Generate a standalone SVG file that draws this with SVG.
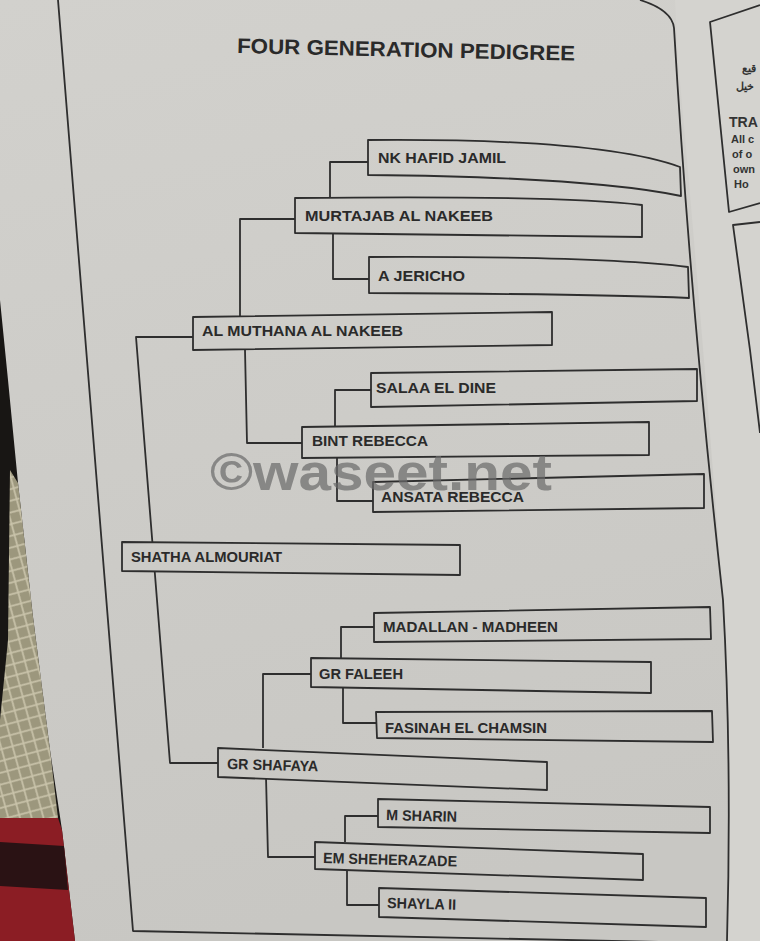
<svg xmlns="http://www.w3.org/2000/svg" width="760" height="941" viewBox="0 0 760 941">
<defs>
<linearGradient id="paper" gradientUnits="userSpaceOnUse" x1="0" y1="0" x2="200" y2="941">
<stop offset="0" stop-color="#d2d1cd"/>
<stop offset="0.5" stop-color="#cdccc8"/>
<stop offset="1" stop-color="#c8c7c3"/>
</linearGradient>
<pattern id="cloth" patternUnits="userSpaceOnUse" width="16" height="16" patternTransform="rotate(30)">
<rect width="16" height="16" fill="#9c977d"/>
<path d="M0,0 L16,16 M16,0 L0,16" stroke="#c9c3aa" stroke-width="1.6"/>
</pattern>
<style>
.box{fill:url(#paper);stroke:#2e2e2e;stroke-width:1.8;stroke-linejoin:round}
.ln{fill:none;stroke:#2e2e2e;stroke-width:1.8;stroke-linejoin:round}
.lbl{font-family:"Liberation Sans",Arial,sans-serif;font-weight:bold;fill:#2a2a2a;font-size:15px}
.side{font-family:"Liberation Sans",Arial,sans-serif;font-weight:bold;fill:#333}
</style>
</defs>

<!-- background -->
<rect width="760" height="941" fill="url(#paper)"/>
<path d="M675,0 L760,0 L760,941 L727,941 Q732,760 723,600 Q700,300 678,60 Z" fill="#d4d3cf"/>
<path d="M0,300 L8,380 L18,483 L33,617 L50,750 L62,830 L75,941 L0,941 Z" fill="#181614"/>
<path d="M10,470 L18,483 L33,617 L50,750 L58,818 L0,818 L0,720 L8,640 Z" fill="url(#cloth)"/>
<path d="M0,818 L58,818 L62,830 L75,941 L0,941 Z" fill="#8b1d24"/>
<path d="M0,842 L64,846 L68,890 L0,886 Z" fill="#2a1214"/>

<!-- page frame -->
<g id="frame">
<path class="ln" d="M58,0 L133,931 L760,944"/>
<path class="ln" d="M640,0 Q672,10 674,28 Q690,300 723,600 Q732,760 727,941"/>
<path class="ln" d="M760,5 L710,22 L729,212 L760,203"/>
<path class="ln" d="M760,222 L733,225 L750,350 L760,433" stroke-width="1.4"/>
<text class="side" x="742" y="72" font-size="11" font-family="'Noto Sans',sans-serif">قيع</text>
<text class="side" x="736" y="90" font-size="11" font-family="'Noto Sans',sans-serif">خيل</text>
<text class="side" x="729" y="127" font-size="15" textLength="29" lengthAdjust="spacingAndGlyphs">TRA</text>
<text class="side" x="731" y="143" font-size="11">All c</text>
<text class="side" x="732" y="158" font-size="11">of o</text>
<text class="side" x="733" y="173" font-size="11">own</text>
<text class="side" x="734" y="188" font-size="11">Ho</text>
</g>

<!-- title -->
<text id="title" x="237" y="53" font-family="'Liberation Sans',Arial,sans-serif" font-weight="bold" font-size="21" fill="#2a2a2a" textLength="338" lengthAdjust="spacingAndGlyphs" transform="rotate(1.3 237 53)">FOUR GENERATION PEDIGREE</text>

<!-- connectors -->
<g id="connectors" class="ln">
<path class="ln" d="M193,337 L136,337 L170,763 L218,763"/>
<path class="ln" d="M240,317 L240,219 L295,219"/>
<path class="ln" d="M245,350 L247,443 L302,443"/>
<path class="ln" d="M330,198 L330,162 L368,162"/>
<path class="ln" d="M333,233 L333,279 L369,279"/>
<path class="ln" d="M335,427 L335,390 L371,390"/>
<path class="ln" d="M337,458 L337,501 L373,501"/>
<path class="ln" d="M263,748 L263,674 L311,674"/>
<path class="ln" d="M266,777 L268,857 L315,857"/>
<path class="ln" d="M341,658 L341,627 L374,627"/>
<path class="ln" d="M343,687 L343,723 L376,723"/>
<path class="ln" d="M345,842 L345,816 L378,816"/>
<path class="ln" d="M347,869 L347,905 L379,905"/>
</g>

<!-- nodes -->
<g id="nk-hafid-jamil">
<path class="box" d="M368,140 Q600,138 680,167 L681,196 Q590,177 368,175 Z"/>
<text class="lbl" x="378" y="163" font-size="16" textLength="128" lengthAdjust="spacingAndGlyphs">NK HAFID JAMIL</text>
</g>
<g id="murtajab-al-nakeeb">
<path class="box" d="M295,198 Q560,195 642,205 L642,237 L295,233 Z"/>
<text class="lbl" x="305" y="221" font-size="16" textLength="188" lengthAdjust="spacingAndGlyphs">MURTAJAB AL NAKEEB</text>
</g>
<g id="a-jericho">
<path class="box" d="M369,257 Q600,256 688,267 L689,298 Q600,294 369,293 Z"/>
<text class="lbl" x="378" y="281" font-size="16" textLength="87" lengthAdjust="spacingAndGlyphs">A JERICHO</text>
</g>
<g id="al-muthana-al-nakeeb">
<path class="box" d="M193,317 L552,312 L552,345 L193,350 Z"/>
<text class="lbl" x="202" y="336" font-size="16" textLength="201" lengthAdjust="spacingAndGlyphs">AL MUTHANA AL NAKEEB</text>
</g>
<g id="salaa-el-dine">
<path class="box" d="M371,373 L697,369 L697,401 L371,407 Z"/>
<text class="lbl" x="376" y="393" font-size="16" textLength="120" lengthAdjust="spacingAndGlyphs">SALAA EL DINE</text>
</g>
<g id="bint-rebecca">
<path class="box" d="M302,427 L649,422 L649,455 L302,458 Z"/>
<text class="lbl" x="312" y="446" font-size="16" textLength="116" lengthAdjust="spacingAndGlyphs">BINT REBECCA</text>
</g>
<g id="ansata-rebecca">
<path class="box" d="M373,482 L704,474 L704,508 L373,512 Z"/>
<text class="lbl" x="381" y="502" font-size="15" textLength="143" lengthAdjust="spacingAndGlyphs">ANSATA REBECCA</text>
</g>
<g id="shatha-almouriat">
<path class="box" d="M122,542 L460,545 L460,575 L122,571 Z"/>
<text class="lbl" x="131" y="562" font-size="15" textLength="151" lengthAdjust="spacingAndGlyphs">SHATHA ALMOURIAT</text>
</g>
<g id="madallan-madheen">
<path class="box" d="M374,613 L710,607 L711,639 L374,642 Z"/>
<text class="lbl" x="383" y="632" font-size="15" textLength="175" lengthAdjust="spacingAndGlyphs">MADALLAN - MADHEEN</text>
</g>
<g id="gr-faleeh">
<path class="box" d="M311,658 L651,662 L651,693 L311,687 Z"/>
<text class="lbl" x="319" y="679" font-size="15" textLength="84" lengthAdjust="spacingAndGlyphs">GR FALEEH</text>
</g>
<g id="fasinah-el-chamsin">
<path class="box" d="M376,712 L712,711 L713,742 L377,738 Z"/>
<text class="lbl" x="385" y="733" font-size="15" textLength="162" lengthAdjust="spacingAndGlyphs">FASINAH EL CHAMSIN</text>
</g>
<g id="gr-shafaya">
<path class="box" d="M218,748 L547,762 L547,790 L218,777 Z"/>
<text class="lbl" x="227" y="769" font-size="15" textLength="91" lengthAdjust="spacingAndGlyphs" transform="rotate(1.5 227 769)">GR SHAFAYA</text>
</g>
<g id="m-sharin">
<path class="box" d="M378,799 L710,807 L710,833 L378,827 Z"/>
<text class="lbl" x="386" y="820" font-size="14" textLength="71" lengthAdjust="spacingAndGlyphs" transform="rotate(1.5 386 820)">M SHARIN</text>
</g>
<g id="em-sheherazade">
<path class="box" d="M315,842 L643,854 L643,880 L315,869 Z"/>
<text class="lbl" x="323" y="863" font-size="14" textLength="134" lengthAdjust="spacingAndGlyphs" transform="rotate(1.5 323 863)">EM SHEHERAZADE</text>
</g>
<g id="shayla-ii">
<path class="box" d="M379,888 L706,898 L706,927 L379,917 Z"/>
<text class="lbl" x="387" y="908" font-size="14" textLength="69" lengthAdjust="spacingAndGlyphs" transform="rotate(1.5 387 908)">SHAYLA II</text>
</g>

<!-- watermark -->
<text id="watermark" x="210" y="490" font-family="'Liberation Sans',Arial,sans-serif" font-weight="bold" font-size="52" fill="#6a6a6a" fill-opacity="0.7" textLength="342" lengthAdjust="spacingAndGlyphs">©waseet.net</text>
</svg>
